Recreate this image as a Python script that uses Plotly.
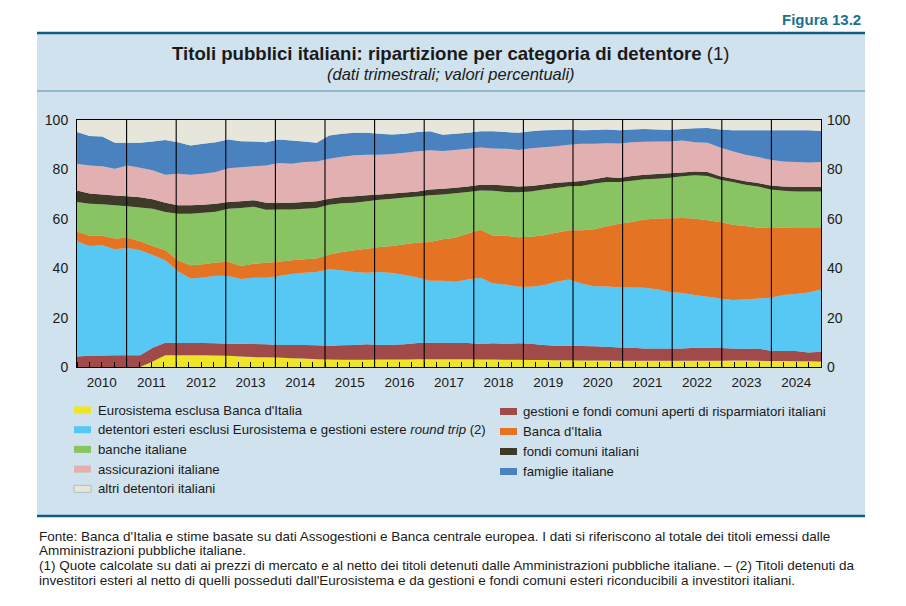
import numpy as np
import plotly.graph_objects as go

# ---------------- data (quarterly shares, %) ----------------
years = list(range(2010, 2025))
quarters = [f"{y} T{q}" for y in years for q in range(1, 5)]

eurosistema = [0, 0, 0, 0, 0, 0, 2.2, 4.8, 4.8, 4.8, 4.8, 4.7,
               4.6, 4.3, 4.0, 3.9, 3.8, 3.5, 3.4, 3.1, 3.0, 2.9, 2.9, 2.9,
               3.0, 3.0, 3.0, 3.1, 3.1, 3.1, 3.1, 3.1, 3.0, 3.0, 2.9, 2.9,
               2.8, 2.8, 2.7, 2.7, 2.6, 2.6, 2.6, 2.5, 2.5, 2.5, 2.5, 2.5,
               2.5, 2.5, 2.5, 2.5, 2.6, 2.6, 2.5, 2.4, 2.4, 2.3, 2.3, 2.2]
gestioni = [4.3, 4.6, 4.7, 4.8, 4.8, 4.8, 5.6, 5.0, 4.9, 4.9, 4.9, 4.9,
            4.8, 5.1, 5.3, 5.3, 5.1, 5.4, 5.5, 5.7, 5.6, 5.9, 6.0, 6.3,
            5.9, 6.0, 6.2, 6.6, 6.7, 6.7, 6.6, 6.6, 6.3, 6.6, 6.5, 6.7,
            6.6, 6.1, 5.9, 5.9, 5.9, 5.8, 5.6, 5.4, 5.3, 5.0, 5.0, 5.0,
            5.0, 5.3, 5.3, 5.2, 4.9, 4.8, 5.0, 4.2, 4.1, 4.2, 3.6, 4.0]
esteri = [46.6, 44.4, 44.6, 42.9, 43.4, 42.5, 37.5, 33.4, 29.1, 26.1, 26.5, 27.3,
          27.4, 26.2, 26.8, 26.9, 27.9, 28.8, 29.3, 29.7, 31.0, 30.4, 29.6, 29.0,
          29.6, 29.1, 28.0, 26.5, 25.1, 25.1, 24.8, 25.7, 26.8, 24.2, 24.0, 22.9,
          23.1, 24.2, 25.9, 26.8, 25.3, 24.3, 24.4, 24.4, 24.4, 24.6, 24.0, 22.9,
          22.5, 21.3, 20.6, 20.0, 19.6, 19.9, 20.2, 21.4, 22.6, 23.1, 24.3, 25.2]
banca_italia = [4.0, 4.1, 3.8, 4.3, 4.1, 3.6, 3.7, 4.1, 4.4, 5.4, 5.4, 5.4,
                5.8, 5.3, 5.7, 6.1, 5.8, 5.5, 5.4, 5.4, 5.9, 7.4, 8.8, 9.7,
                10.1, 10.9, 12.5, 14.2, 15.7, 16.8, 17.8, 18.6, 19.5, 19.3, 19.7, 20.0,
                20.2, 20.2, 19.9, 20.0, 21.6, 23.1, 24.4, 25.7, 26.5, 27.6, 28.6, 29.8,
                30.3, 31.0, 31.0, 31.0, 30.5, 29.8, 28.7, 28.3, 27.3, 26.7, 26.1, 24.9]
banche = [11.9, 13.0, 12.8, 13.5, 12.8, 13.7, 15.1, 15.5, 18.8, 20.8, 20.8, 20.6,
          21.5, 23.5, 23.1, 21.5, 21.2, 20.6, 20.5, 20.5, 20.2, 19.7, 19.2, 19.2,
          19.1, 19.1, 18.9, 18.6, 18.9, 18.1, 18.0, 16.8, 15.9, 18.3, 17.7, 18.2,
          18.4, 18.6, 18.1, 17.8, 17.9, 18.5, 17.9, 16.9, 16.7, 16.3, 16.1, 16.4,
          16.9, 17.5, 17.9, 17.1, 17.3, 16.7, 16.7, 15.6, 15.0, 14.8, 14.8, 14.8]
fondi = [4.7, 4.1, 3.9, 3.9, 4.0, 4.1, 3.8, 3.7, 3.5, 3.5, 3.3, 3.2,
         2.7, 2.7, 2.6, 2.8, 2.7, 2.7, 2.7, 2.7, 2.4, 2.5, 2.6, 2.4,
         2.1, 2.1, 2.0, 2.1, 2.4, 2.4, 2.3, 2.3, 2.3, 2.4, 2.7, 2.4,
         2.2, 2.0, 2.1, 1.7, 2.0, 1.7, 2.0, 1.6, 1.9, 1.8, 1.9, 1.8,
         1.5, 1.6, 1.6, 1.4, 1.3, 1.4, 1.4, 1.6, 1.7, 1.8, 1.8, 1.8]
assicurazioni = [10.8, 11.4, 11.5, 10.9, 12.5, 12.0, 11.8, 11.3, 12.7, 12.3, 12.5, 12.8,
                 13.7, 13.8, 13.8, 15.1, 16.1, 15.8, 16.2, 16.1, 16.2, 16.3, 16.6, 16.4,
                 16.1, 16.0, 16.1, 16.2, 15.9, 15.2, 15.3, 15.3, 15.1, 14.7, 14.9, 14.8,
                 15.3, 15.1, 14.8, 15.1, 15.1, 14.4, 13.7, 14.0, 13.7, 13.4, 13.2, 12.9,
                 13.0, 11.8, 11.9, 11.7, 11.1, 10.7, 10.5, 10.4, 10.1, 10.1, 9.9, 10.1]
famiglie = [12.8, 11.9, 12.0, 10.5, 9.2, 10.1, 11.6, 14.1, 12.8, 11.9, 12.2, 12.1,
            11.6, 10.5, 10.0, 9.4, 9.5, 9.4, 8.3, 7.6, 9.4, 9.3, 9.1, 8.9,
            8.5, 7.9, 7.7, 7.8, 7.6, 6.6, 6.5, 6.4, 6.5, 6.9, 6.7, 6.9,
            6.8, 6.8, 6.6, 6.2, 5.4, 5.6, 5.6, 5.4, 5.2, 5.2, 4.9, 4.7,
            4.7, 5.7, 6.0, 7.3, 8.5, 9.9, 10.8, 11.9, 12.7, 12.9, 13.0, 12.5]
altri = [4.9, 6.5, 6.7, 9.2, 9.2, 9.2, 8.7, 8.1, 9.0, 10.3, 9.6, 9.0,
         7.9, 8.6, 8.7, 9.0, 7.9, 8.3, 8.7, 9.2, 6.3, 5.6, 5.2, 5.2,
         5.6, 5.9, 5.6, 4.9, 4.6, 6.0, 5.6, 5.2, 4.6, 4.6, 4.9, 5.2,
         4.6, 4.2, 4.0, 3.8, 4.2, 4.0, 3.8, 4.1, 3.8, 3.6, 3.8, 4.0,
         3.6, 3.3, 3.2, 3.8, 4.2, 4.2, 4.2, 4.2, 4.1, 4.1, 4.2, 4.5]

names = ["Eurosistema esclusa Banca d'Italia",
         "gestioni e fondi comuni aperti di risparmiatori italiani",
         "detentori esteri esclusi Eurosistema e gestioni estere <i>round trip</i> (2)",
         "Banca d'Italia",
         "banche italiane",
         "fondi comuni italiani",
         "assicurazioni italiane",
         "famiglie italiane",
         "altri detentori italiani"]
values = [eurosistema, gestioni, esteri, banca_italia, banche, fondi,
          assicurazioni, famiglie, altri]
colors = ["#EDE526", "#A04A4A", "#57C7F3", "#E47424", "#88C461",
          "#3E3A28", "#E2B0B0", "#4A82C0", "#E6E6DA"]

y_ticks = [0, 20, 40, 60, 80, 100]

# ---------------- geometry helpers ----------------
W, H = 906, 606
L, R, T, B = 77, 821, 120, 367          # plot area in pixels


def xp(px):
    return (px - L) / (R - L)


def yp(py):
    return (B - py) / (B - T)


FONT = "Liberation Sans, Arial, sans-serif"
NARROW = "Liberation Sans Narrow, Arial Narrow, Liberation Sans, Arial, sans-serif"
TXT = "#1a1a1a"
PANEL = "#CFE2ED"
TEAL = "#0F5C7D"

x = np.linspace(years[0], years[-1] + 1, len(quarters))

fig = go.Figure()
for name, vals, col in zip(names, values, colors):
    fig.add_trace(go.Scatter(
        x=x, y=vals, customdata=quarters, stackgroup="one", mode="none",
        fillcolor=col, name=name, showlegend=False,
        hovertemplate="%{customdata}: %{y:.1f}<extra></extra>"))

# invisible trace for the right-hand axis
fig.add_trace(go.Scatter(x=[years[0], years[-1] + 1], y=[0, 100], xaxis="x2", yaxis="y2",
                         mode="markers", marker=dict(opacity=0), hoverinfo="skip",
                         showlegend=False))

shapes = []
# panel background and rules
shapes.append(dict(type="rect", xref="paper", yref="paper", x0=xp(37), x1=xp(865),
                   y0=yp(517), y1=yp(33), fillcolor=PANEL, line_width=0, layer="below"))
shapes.append(dict(type="line", xref="paper", yref="paper", x0=xp(37), x1=xp(865),
                   y0=yp(33), y1=yp(33), line=dict(color=TEAL, width=2.5)))
shapes.append(dict(type="line", xref="paper", yref="paper", x0=xp(37), x1=xp(865),
                   y0=yp(91), y1=yp(91), line=dict(color="#4F8EAB", width=1)))
shapes.append(dict(type="line", xref="paper", yref="paper", x0=xp(37), x1=xp(865),
                   y0=yp(516), y1=yp(516), line=dict(color=TEAL, width=2.5)))
# year separators
for yv in years[1:]:
    shapes.append(dict(type="line", xref="x", yref="paper", x0=yv, x1=yv, y0=0, y1=1,
                       line=dict(color="black", width=1.1), layer="above"))

annotations = []
annotations.append(dict(xref="paper", yref="paper", x=xp(863), y=yp(20), xanchor="right",
                        yanchor="middle", showarrow=False, text="<b>Figura 13.2</b>",
                        font=dict(family=NARROW, size=15, color="#1E6F8F")))
annotations.append(dict(xref="paper", yref="paper", x=xp(451), y=yp(54), xanchor="center",
                        yanchor="middle", showarrow=False,
                        text="<b>Titoli pubblici italiani: ripartizione per categoria di detentore</b> (1)",
                        font=dict(family=FONT, size=18.6, color=TXT)))
annotations.append(dict(xref="paper", yref="paper", x=xp(451), y=yp(74), xanchor="center",
                        yanchor="middle", showarrow=False,
                        text="<i>(dati trimestrali; valori percentuali)</i>",
                        font=dict(family=FONT, size=16.5, color=TXT)))

# manual legend (two columns, row-major in stacking order)
for k, (name, col) in enumerate(zip(names, colors)):
    row, c = k // 2, k % 2
    if c == 0:
        sx0, tx, cy = 74, 96, 410 + 19.7 * row
    else:
        sx0, tx, cy = 500, 521, 411.5 + 20 * row
    shapes.append(dict(type="rect", xref="paper", yref="paper", x0=xp(sx0), x1=xp(sx0 + 17),
                       y0=yp(cy + 3.5), y1=yp(cy - 3.5), fillcolor=col,
                       line=dict(color="#A0A0A0" if k == 8 else col, width=0.6 if k == 8 else 0)))
    annotations.append(dict(xref="paper", yref="paper", x=xp(tx), y=yp(cy), xanchor="left",
                            yanchor="middle", showarrow=False, text=name,
                            font=dict(family=FONT, size=13.2, color=TXT)))

notes = ["Fonte: Banca d'Italia e stime basate su dati Assogestioni e Banca centrale europea. I dati si riferiscono al totale dei titoli emessi dalle",
         "Amministrazioni pubbliche italiane.",
         "(1) Quote calcolate su dati ai prezzi di mercato e al netto dei titoli detenuti dalle Amministrazioni pubbliche italiane. – (2) Titoli detenuti da",
         "investitori esteri al netto di quelli posseduti dall'Eurosistema e da gestioni e fondi comuni esteri riconducibili a investitori italiani."]
for j, line in enumerate(notes):
    annotations.append(dict(xref="paper", yref="paper", x=xp(37), y=yp(536 + 14.7 * j),
                            xanchor="left", yanchor="middle", showarrow=False, text=line,
                            font=dict(family=FONT, size=13.5, color=TXT)))

axis_common = dict(showgrid=False, zeroline=False, showline=True, linecolor="black",
                   linewidth=1, mirror=True, layer="above traces")

fig.update_layout(
    width=W, height=H,
    margin=dict(l=L, r=W - R, t=T, b=H - B, pad=0),
    paper_bgcolor="white", plot_bgcolor=colors[-1],
    font=dict(family=FONT, color=TXT),
    showlegend=False,
    hovermode="x unified",
    xaxis=dict(range=[years[0], years[-1] + 1], tickmode="array",
               tickvals=[yv + 0.5 for yv in years], ticktext=[str(yv) for yv in years],
               ticks="", tickfont=dict(size=13.5, color=TXT), ticklabelstandoff=3,
               minor=dict(tickmode="linear", tick0=years[0], dtick=0.25, ticks="inside",
                          ticklen=5, tickwidth=1, tickcolor="black", showgrid=False),
               **axis_common),
    xaxis2=dict(range=[years[0], years[-1] + 1], overlaying="x", anchor="y2", visible=False),
    yaxis=dict(range=[0, 100], tickvals=y_ticks, ticks="", ticklabelstandoff=5,
               tickfont=dict(size=14, color=TXT), **axis_common),
    yaxis2=dict(range=[0, 100], tickvals=y_ticks, ticks="", ticklabelstandoff=5,
                overlaying="y", side="right", anchor="x", showgrid=False, zeroline=False,
                showline=False, tickfont=dict(size=14, color=TXT)),
    shapes=shapes,
    annotations=annotations,
)

fig.write_html("out.html")
